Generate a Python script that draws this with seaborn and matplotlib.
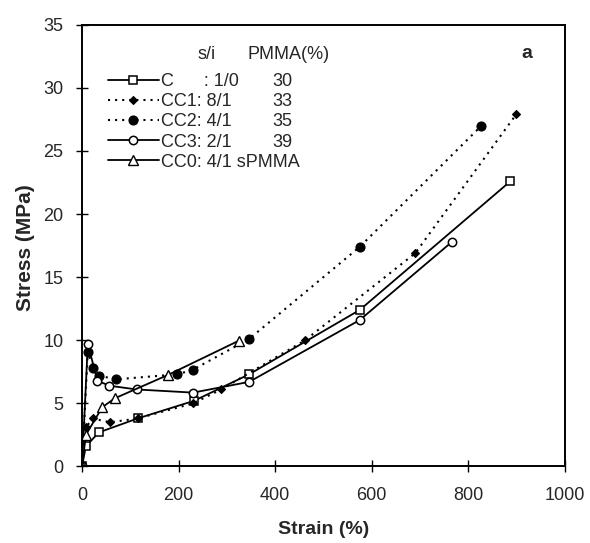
import matplotlib
matplotlib.use("Agg")
import matplotlib.pyplot as plt
import seaborn as sns
import pandas as pd

# ---- data ----
c_strain = [0, 8, 35, 115, 232, 346, 575, 887]
c_stress = [0, 1.6, 2.7, 3.8, 5.2, 7.3, 12.4, 22.6]

cc1_strain = [0, 8, 22, 58, 115, 230, 288, 462, 690, 899]
cc1_stress = [0, 3.1, 3.8, 3.5, 3.8, 5.0, 6.1, 10.0, 16.9, 27.9]

cc2_strain = [0, 12, 23, 35, 70, 197, 229, 346, 575, 827]
cc2_stress = [0, 9.1, 7.8, 7.2, 6.9, 7.3, 7.65, 10.1, 17.4, 27.0]

cc3_strain = [0, 12, 32, 56, 113, 230, 346, 575, 766]
cc3_stress = [0, 9.7, 6.8, 6.4, 6.1, 5.85, 6.7, 11.6, 17.8]

cc0_strain = [0, 8, 42, 68, 178, 325]
cc0_stress = [0, 2.5, 4.7, 5.4, 7.25, 9.97]

labels = ["C      : 1/0", "CC1: 8/1", "CC2: 4/1", "CC3: 2/1", "CC0: 4/1 sPMMA"]
pmma = ["30", "33", "35", "39", ""]

x_ticks = [0, 200, 400, 600, 800, 1000]
y_ticks = [0, 5, 10, 15, 20, 25, 30, 35]

# ---- style ----
sns.set_style("ticks")
plt.rcParams["font.family"] = ["Liberation Sans", "DejaVu Sans"]

fig = plt.figure(figsize=(5.9, 5.43), dpi=100)
ax = fig.add_axes([0.139, 0.141, 0.8186, 0.8134])

dot = (0, (1, 2.4))
series = [
    (c_strain, c_stress, dict(linestyle="-", lw=1.3, marker="s", ms=5.5, mfc="white", mec="black", mew=1.1)),
    (cc1_strain, cc1_stress, dict(linestyle=dot, lw=1.5, marker="D", ms=4.3, mfc="black", mec="black", mew=0.8)),
    (cc2_strain, cc2_stress, dict(linestyle=dot, lw=1.5, marker="o", ms=6.5, mfc="black", mec="black", mew=0.8)),
    (cc3_strain, cc3_stress, dict(linestyle="-", lw=1.3, marker="o", ms=6, mfc="white", mec="black", mew=1.1)),
    (cc0_strain, cc0_stress, dict(linestyle="-", lw=1.3, marker="^", ms=6.5, mfc="white", mec="black", mew=1.0)),
]

handles = []
for xs, ys, kw in series:
    df = pd.DataFrame({"strain": xs, "stress": ys})
    n0 = len(ax.lines)
    sns.lineplot(data=df, x="strain", y="stress", ax=ax, sort=False, estimator=None,
                 color="black", **kw)
    handles.append(ax.lines[n0])

ax.set_xlim(0, 1000)
ax.set_ylim(0, 35)
ax.set_xticks(x_ticks)
ax.set_yticks(y_ticks)
ax.tick_params(axis="both", direction="inout", length=9, width=1, labelsize=13, color="black",
               top=False, right=False)
ax.tick_params(axis="x", pad=10)
ax.tick_params(axis="y", pad=9)
for s in ax.spines.values():
    s.set_visible(True)
    s.set_linewidth(1.4)
    s.set_color("black")

ax.set_xlabel("Strain (%)", fontsize=14, fontweight="bold")
ax.set_ylabel("Stress (MPa)", fontsize=15, fontweight="bold")
ax.xaxis.set_label_coords(0.5, -0.124)
ax.yaxis.set_label_coords(-0.097, 0.495)

leg = ax.legend(handles, labels, loc="upper left", bbox_to_anchor=(0.0538, 0.89),
                frameon=False, fontsize=13, handlelength=2.8, handletextpad=0.15,
                labelspacing=0.17, borderpad=0, borderaxespad=0)

ax.text(0.258, 0.932, "s/i", transform=ax.transAxes, fontsize=13, ha="center", va="center")
ax.text(0.343, 0.932, "PMMA(%)", transform=ax.transAxes, fontsize=13, ha="left", va="center")
ax.text(0.922, 0.935, "a", transform=ax.transAxes, fontsize=14, fontweight="bold",
        ha="center", va="center")

fig.canvas.draw()
r = fig.canvas.get_renderer()
inv = ax.transAxes.inverted()
for t, num in zip(leg.get_texts(), pmma):
    if not num:
        continue
    bb = t.get_window_extent(r)
    yc = (bb.y0 + bb.y1) / 2
    xa, ya = inv.transform((0, yc))
    ax.text(0.414, ya, num, transform=ax.transAxes, fontsize=13, ha="center", va="center")

fig.savefig("out.png", dpi=100)
